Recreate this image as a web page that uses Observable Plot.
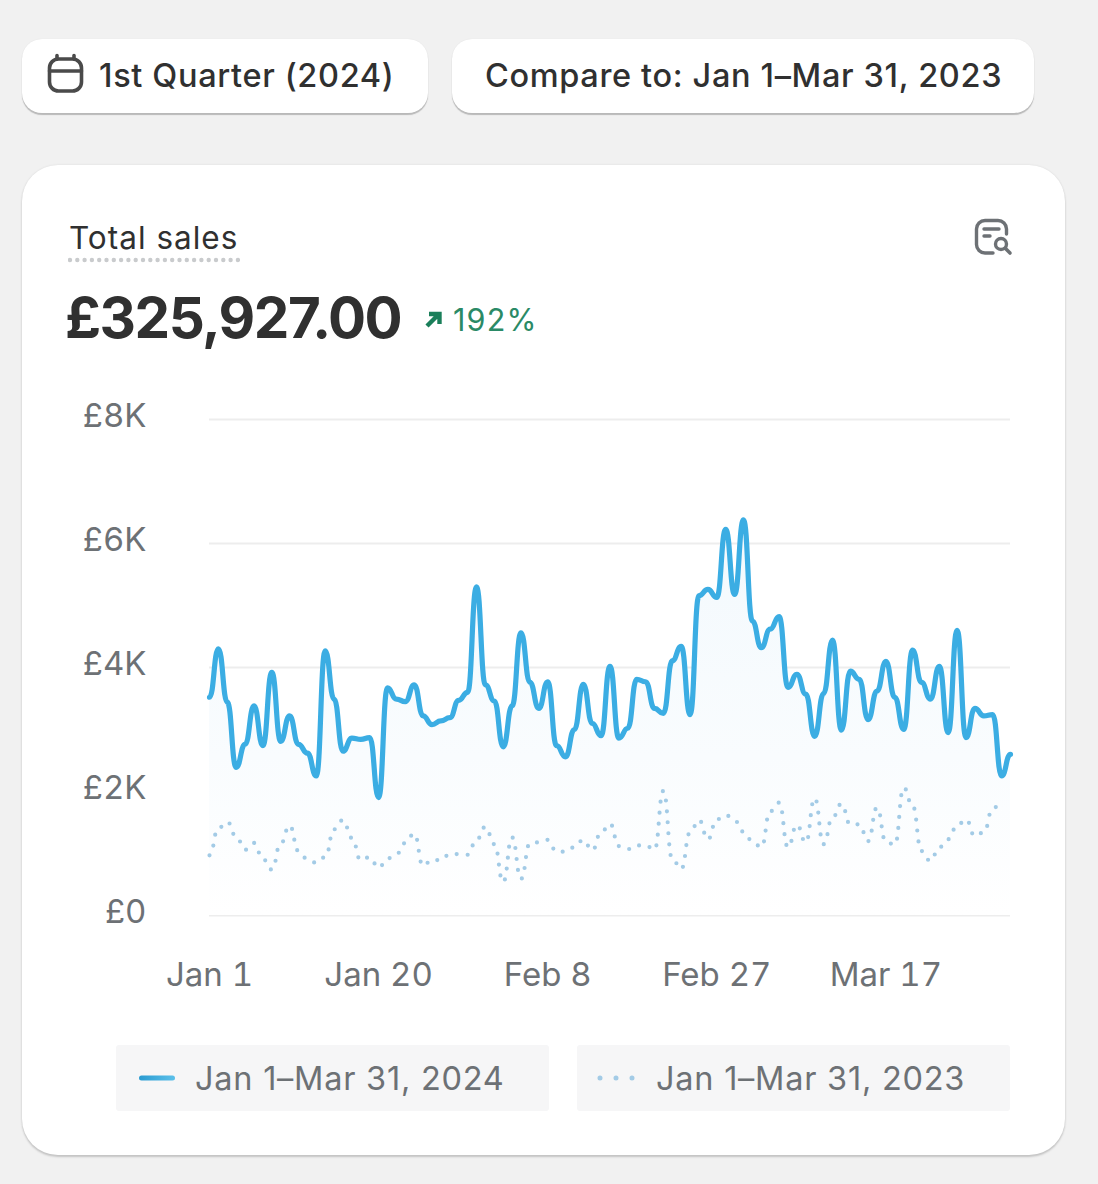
<!DOCTYPE html>
<html><head><meta charset="utf-8">
<script src="https://cdn.jsdelivr.net/npm/d3@7"></script>
<script src="https://cdn.jsdelivr.net/npm/@observablehq/plot@0.6"></script>
<style>
html,body{margin:0;padding:0;background:#f1f1f1;}
body{position:relative;width:1098px;height:1184px;overflow:hidden;font-family:Inter,"Noto Sans",sans-serif;-webkit-font-smoothing:antialiased;}
.abs{position:absolute;white-space:nowrap;}
.pill{position:absolute;box-sizing:border-box;background:#fff;border-radius:20px;top:39px;height:74px;box-shadow:0 2px 1px #b9b9b9,0 0 1px #dcdcdc;}
.pilltxt{font-size:32.5px;font-weight:500;color:#303030;top:55px;line-height:42px;letter-spacing:.65px;}
#card{position:absolute;box-sizing:border-box;left:22px;top:165px;width:1043px;height:990px;background:#fff;border-radius:36px;box-shadow:0 2px 2px #c4c4c4,0 0 2px #d8d8d8;}
#chart{position:absolute;left:0;top:380px;}
.leg{position:absolute;top:1045px;height:66px;background:#f6f6f7;border-radius:3px;}
.legtxt{font-size:32.5px;color:#6d7175;top:1058px;line-height:42px;letter-spacing:.75px;}
</style></head><body>
<div class="pill" style="left:22px;width:406px"></div>
<div class="pill" style="left:452px;width:582px"></div>
<svg class="abs" style="left:46px;top:53px" width="40" height="42" viewBox="0 0 40 42" fill="none" stroke="#4a4a4a" stroke-width="3.6" stroke-linecap="round">
  <rect x="3.5" y="6" width="32" height="32" rx="9"/><path d="M3.5 18H35.5M11 2.5V6M28 2.5V6"/>
</svg>
<div class="abs pilltxt" style="left:99px">1st Quarter (2024)</div>
<div class="abs pilltxt" style="left:485px">Compare to: Jan 1–Mar 31, 2023</div>
<div id="card"></div>
<div class="abs" style="left:69px;top:218px;font-size:31.5px;line-height:40px;color:#303030;letter-spacing:1px">Total sales</div>
<svg class="abs" style="left:68px;top:256px" width="172" height="8"><line x1="2" x2="170" y1="4" y2="4" stroke="#c9cbcd" stroke-width="4.4" stroke-linecap="round" stroke-dasharray="0 7.3"/></svg>
<div class="abs" style="left:65px;top:284px;font-size:56.5px;line-height:68px;font-weight:700;color:#303030;letter-spacing:-1.5px">£325,927.00</div>
<svg class="abs" style="left:424px;top:310px" width="20" height="18" fill="none" stroke="#1a7f5a" stroke-width="4.4"><path d="M3 16L14 5M5 4H15.5V14"/></svg>
<div class="abs" style="left:453px;top:300px;font-size:30.5px;line-height:40px;color:#2a8a66;letter-spacing:1.2px">192%</div>
<svg class="abs" style="left:973px;top:217px" width="42" height="42" fill="none" stroke="#6d7175" stroke-linecap="round">
  <path stroke-width="3.4" d="M20 36H12A8.5 8.5 0 0 1 3.5 27.5V12A8.5 8.5 0 0 1 12 3.5H25A8.5 8.5 0 0 1 33.5 12V17"/>
  <path stroke-width="3.4" d="M11 12H26M11 19H17"/>
  <circle cx="28" cy="27" r="5.5" stroke-width="3.4"/><path stroke-width="3.6" d="M32.5 31.5L37 36"/>
</svg>
<div id="chart"></div>
<div class="leg" style="left:116px;width:433px"></div>
<div class="leg" style="left:577px;width:433px"></div>
<svg class="abs" style="left:136px;top:1070px" width="44" height="16"><defs><linearGradient id="lg"><stop offset="0" stop-color="#2a9bd1"/><stop offset="1" stop-color="#5cc0ea"/></linearGradient></defs><rect x="3" y="5.5" width="36" height="5" rx="2.5" fill="url(#lg)"/></svg>
<div class="abs legtxt" style="left:195px">Jan 1–Mar 31, 2024</div>
<svg class="abs" style="left:594px;top:1070px" width="46" height="16"><line x1="6" x2="40" y1="8" y2="8" stroke="#a3cbe6" stroke-width="5" stroke-linecap="round" stroke-dasharray="0 16"/></svg>
<div class="abs legtxt" style="left:656px">Jan 1–Mar 31, 2023</div>
<script>
const sales2024 = [3.52,4.30,3.44,2.39,2.76,3.38,2.74,3.92,2.81,3.22,2.76,2.62,2.25,4.27,3.49,2.65,2.86,2.84,2.87,1.90,
3.67,3.49,3.45,3.72,3.22,3.08,3.14,3.19,3.47,3.60,5.30,3.72,3.46,2.72,3.38,4.56,3.76,3.34,3.77,2.74,2.56,3.00,3.73,3.10,2.90,4.02,
2.86,3.02,3.81,3.77,3.34,3.26,4.11,4.34,3.24,5.16,5.26,5.13,6.23,5.18,6.38,4.75,4.32,4.62,4.82,3.68,3.89,3.57,2.89,3.58,4.44,2.99,
3.94,3.81,3.16,3.62,4.10,3.52,3.00,4.28,3.76,3.49,4.02,2.95,4.60,2.87,3.34,3.22,3.24,2.25,2.60];
const sales2023 = [0.97,1.41,1.51,1.27,1.06,1.17,0.91,0.74,1.16,1.45,1.04,0.91,0.85,0.94,1.39,1.54,1.25,0.89,0.94,0.77,
0.92,0.99,1.17,1.32,0.80,0.90,0.89,0.99,0.99,0.98,1.22,1.43,1.15,0.54,1.26,0.59,1.16,1.18,1.22,1.03,1.03,1.10,1.22,1.05,1.34,1.48,
1.12,1.07,1.13,1.13,1.06,2.01,0.91,0.75,1.34,1.54,1.23,1.55,1.62,1.53,1.35,1.20,1.10,1.68,1.82,1.10,1.46,1.18,1.89,1.15,1.58,1.80,
1.47,1.47,1.20,1.74,1.19,1.14,2.06,1.77,1.04,0.88,1.10,1.23,1.45,1.55,1.28,1.34,1.72,1.85];
const yTicks = [0,2000,4000,6000,8000];
const xTickLabels = ["Jan 1","Jan 20","Feb 8","Feb 27","Mar 17"];
const xTickDays = [0,19,38,57,76];
const startDay = new Date(Date.UTC(2024,0,1));
const day = i => d3.utcDay.offset(startDay,i);
const row = (v,i)=>({date:day(i),value:v*1000});
const cur = sales2024.map(row), prev = sales2023.map(row);
const xTicks = xTickDays.map(day);
const gradient = () => {
  const s = d3.create("svg:defs");
  const g = s.append("linearGradient").attr("id","areaFill").attr("x1",0).attr("x2",0).attr("y1",0).attr("y2",1);
  g.append("stop").attr("offset",0).attr("stop-color","#f3f9fd");
  g.append("stop").attr("offset",0.6).attr("stop-color","#f9fcfe");
  g.append("stop").attr("offset",1).attr("stop-color","#ffffff");
  return s.node();
};
const chart = Plot.plot({
  width:1098,height:615,marginLeft:209,marginRight:88,marginTop:39,marginBottom:80,
  style:{background:"transparent",fontFamily:"Inter,'Noto Sans',sans-serif",fontSize:"33px",overflow:"visible"},
  x:{type:"utc",domain:[day(0),day(90)]},
  y:{domain:[0,8000]},
  marks:[
    gradient,
    Plot.ruleY(yTicks,{stroke:"#ededed",strokeWidth:2}),
    Plot.areaY(cur,{x:"date",y:"value",curve:"bump-x",fill:"url(#areaFill)"}),
    Plot.line(prev,{x:"date",y:"value",curve:"bump-x",stroke:"#a3cbe6",strokeWidth:4.2,strokeLinecap:"round",strokeDasharray:"0 10.9"}),
    Plot.line(cur,{x:"date",y:"value",curve:"bump-x",stroke:"#3bade3",strokeWidth:5.2}),
    Plot.axisY({ticks:yTicks,tickSize:0,tickPadding:63,label:null,dy:-3,fill:"#6d7175",tickFormat:d=>d===0?"£0":"£"+d/1000+"K"}),
    Plot.axisX({ticks:xTicks,tickSize:0,tickPadding:47,label:null,fill:"#6d7175",tickFormat:d=>xTickLabels[xTicks.findIndex(t=>+t===+d)]})
  ]
});
document.getElementById("chart").appendChild(chart);
</script>
</body></html>
